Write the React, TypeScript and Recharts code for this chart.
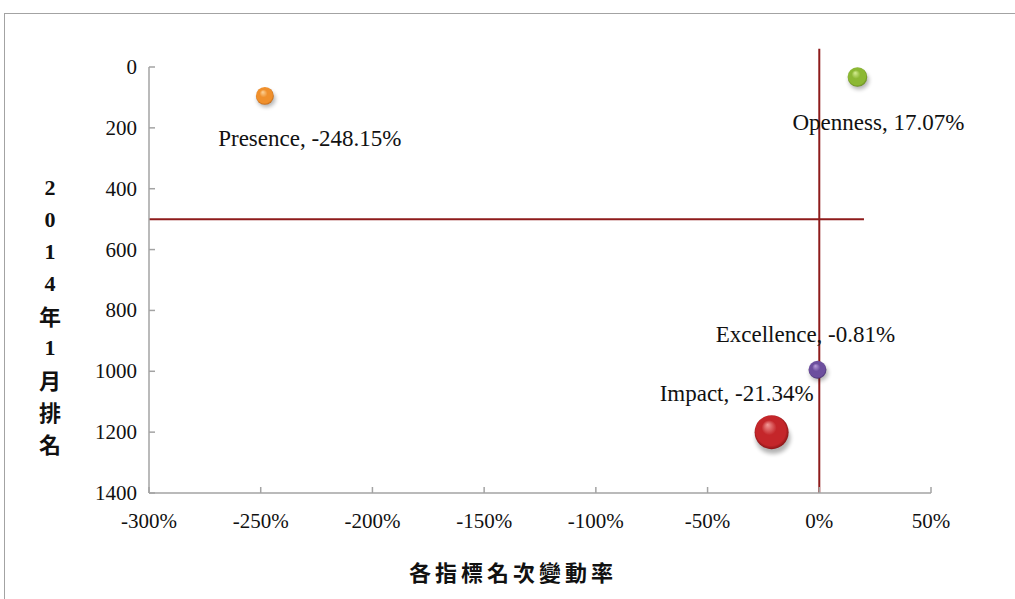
import { ScatterChart, Scatter, XAxis, YAxis, ZAxis, ReferenceLine } from 'recharts';

// indicator names, x = rank change rate (%), y = 2014/01 rank, z = bubble size
const names = ['Presence', 'Openness', 'Excellence', 'Impact'];
const changeRate = [-248.15, 17.07, -0.81, -21.34];
const rank2014 = [95, 33, 995, 1200];
const bubbleSize = [10, 12, 10, 36];

const xTicks = [-300, -250, -200, -150, -100, -50, 0, 50];
const yTicks = [0, 200, 400, 600, 800, 1000, 1200, 1400];

// quadrant divider lines
const crossX = 0;
const crossY = 500;
const verticalSpan = [-60, 1400];
const horizontalSpan = [-300, 20];

const yTitle = ['2', '0', '1', '4', '年', '1', '月', '排', '名'];
const xTitle = '各指標名次變動率';

const data = names.map((name, i) => ({
  name,
  key: name.toLowerCase(),
  x: changeRate[i],
  y: rank2014[i],
  z: bubbleSize[i],
}));

// sphere shading colours: highlight, base, dark edge
const COLORS: Record<string, [string, string, string]> = {
  presence: ['#fcd39a', '#f0902c', '#a9540e'],
  openness: ['#d6ee94', '#8cb834', '#587616'],
  excellence: ['#bba0dc', '#6d4f9e', '#3a2662'],
  impact: ['#f39a98', '#c4262a', '#6e0e0e'],
};

// label placement relative to bubble centre
const LABEL_OFFSET: Record<string, [number, number]> = {
  presence: [45, 50],
  openness: [21, 53],
  excellence: [-12, -28],
  impact: [-35, -31],
};

const serif = '"Liberation Serif", "Times New Roman", serif';
const cjk = '"Noto Sans CJK TC", "Noto Sans CJK SC", sans-serif';
const axisGray = '#a3a3a3';
const lineRed = '#8e1b1b';

const Bubble = (props: any) => {
  const { cx, cy, width, payload } = props;
  if (cx == null || cy == null) return null;
  const r = width / 2;
  const [dx, dy] = LABEL_OFFSET[payload.key];
  return (
    <g>
      <ellipse
        cx={cx + 1.5}
        cy={cy + r * 0.35}
        rx={r * 1.02}
        ry={r * 0.92}
        fill="#000"
        opacity={0.3}
        filter="url(#softShadow)"
      />
      <circle cx={cx} cy={cy} r={r} fill={`url(#grad-${payload.key})`} />
      <text
        x={cx + dx}
        y={cy + dy}
        textAnchor="middle"
        fontFamily={serif}
        fontSize={23}
        fill="#111"
      >
        {`${payload.name}, ${payload.x.toFixed(2)}%`}
      </text>
    </g>
  );
};

const XTick = (props: any) => {
  const { x, y, payload } = props;
  return (
    <text x={x} y={y + 29} textAnchor="middle" fontFamily={serif} fontSize={21} fill="#111">
      {`${payload.value}%`}
    </text>
  );
};

const YTick = (props: any) => {
  const { x, y, payload } = props;
  return (
    <text x={x} y={y + 7} textAnchor="end" fontFamily={serif} fontSize={21} fill="#111">
      {payload.value}
    </text>
  );
};

const YTitle = (props: any) => {
  const { viewBox } = props;
  const x = viewBox.x - 39;
  return (
    <text fill="#111" fontWeight="bold" fontSize={22} textAnchor="middle">
      {yTitle.map((ch, i) => (
        <tspan
          key={i}
          x={x}
          y={187 + i * 32}
          dominantBaseline="central"
          fontFamily={/[0-9]/.test(ch) ? serif : cjk}
        >
          {ch}
        </tspan>
      ))}
    </text>
  );
};

const XTitle = () => (
  <text
    x={513}
    y={571}
    textAnchor="middle"
    dominantBaseline="central"
    fontFamily={cjk}
    fontWeight="bold"
    fontSize={22}
    letterSpacing={4}
    fill="#111"
  >
    {xTitle}
  </text>
);

const App = () => {
  return (
    <div style={{ position: 'absolute', left: 0, top: 0, width: 1015, height: 599, background: '#fff', overflow: 'hidden', fontFamily: serif }}>
      <div
        style={{
          position: 'absolute',
          left: 4,
          top: 13,
          width: 1100,
          height: 700,
          borderLeft: `1.5px solid ${axisGray}`,
          borderTop: `1.5px solid ${axisGray}`,
        }}
      />
      <div style={{ position: 'absolute', left: 0, top: 0 }}>
        <ScatterChart width={1015} height={599} margin={{ top: 67, right: 84, bottom: 76, left: 89 }}>
          <defs>
            {Object.entries(COLORS).map(([k, [hi, base, dark]]) => (
              <radialGradient key={k} id={`grad-${k}`} cx="50%" cy="50%" r="55%" fx="38%" fy="28%">
                <stop offset="0%" stopColor={hi} />
                <stop offset="40%" stopColor={base} />
                <stop offset="80%" stopColor={base} />
                <stop offset="100%" stopColor={dark} />
              </radialGradient>
            ))}
            <filter id="softShadow" x="-50%" y="-50%" width="200%" height="200%">
              <feGaussianBlur stdDeviation="2" />
            </filter>
          </defs>
          <XAxis
            type="number"
            dataKey="x"
            domain={[-300, 50]}
            ticks={xTicks}
            height={30}
            tickSize={-6}
            tickMargin={12}
            interval={0}
            axisLine={{ stroke: axisGray, strokeWidth: 1.5 }}
            tickLine={{ stroke: axisGray, strokeWidth: 1.5 }}
            tick={<XTick />}
            label={<XTitle />}
          />
          <YAxis
            type="number"
            dataKey="y"
            domain={[0, 1400]}
            ticks={yTicks}
            reversed
            width={60}
            tickSize={-6}
            tickMargin={18}
            interval={0}
            axisLine={{ stroke: axisGray, strokeWidth: 1.5 }}
            tickLine={{ stroke: axisGray, strokeWidth: 1.5 }}
            tick={<YTick />}
            label={<YTitle />}
          />
          <ZAxis type="number" dataKey="z" domain={[0, 36]} range={[0, 908]} />
          <Scatter data={data} shape={<Bubble />} isAnimationActive={false} />
          <ReferenceLine
            segment={[
              { x: crossX, y: verticalSpan[0] },
              { x: crossX, y: verticalSpan[1] },
            ]}
            stroke={lineRed}
            strokeWidth={2}
            ifOverflow="visible"
          />
          <ReferenceLine
            segment={[
              { x: horizontalSpan[0], y: crossY },
              { x: horizontalSpan[1], y: crossY },
            ]}
            stroke={lineRed}
            strokeWidth={2}
            ifOverflow="visible"
          />
        </ScatterChart>
      </div>
    </div>
  );
};

export default App;
